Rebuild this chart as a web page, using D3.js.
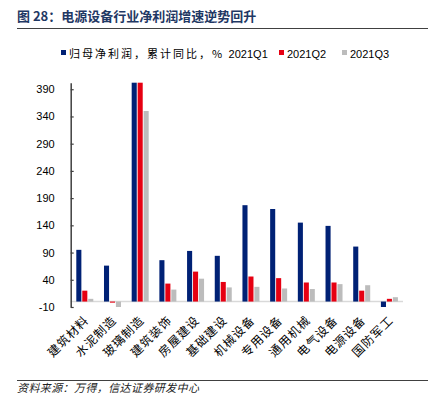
<!DOCTYPE html>
<html>
<head>
<meta charset="utf-8">
<script src="https://cdn.jsdelivr.net/npm/d3@7"></script>
<style>
  body { margin: 0; background: #fff; }
</style>
</head>
<body>
<div class="container"></div>
<script>
// categories and series
const categories = ['建筑材料', '水泥制造', '玻璃制造', '建筑装饰', '房屋建设', '基础建设',
  '机械设备', '专用设备', '通用机械', '电气设备', '电源设备', '国防军工'];
const seriesNames = ['2021Q1', '2021Q2', '2021Q3'];
const legendPrefix = '归母净利润，累计同比，% ';
const q1 = [95, 66, 1150, 76, 93, 84, 177, 170, 145, 139, 101, -12];
const q2 = [20, -2, 1020, 33, 55, 36, 46, 43, 35, 35, 20, 5];
const q3 = [5, -12, 350, 22, 42, 26, 27, 24, 23, 32, 30, 8];
const yTicks = [-10, 40, 90, 140, 190, 240, 290, 340, 390];
const colors = ['#002175', '#e60012', '#bcbcbc'];

const width = 441, height = 394;
const svg = d3.select('.container').append('svg')
  .attr('width', width)
  .attr('height', height)
  .style('font-family', '"Noto Sans CJK SC", sans-serif');

// title
svg.append('text')
  .attr('x', 17).attr('y', 21)
  .attr('fill', '#1f3864')
  .attr('font-size', 13)
  .attr('font-weight', 'bold')
  .text('图 28：电源设备行业净利润增速逆势回升');
svg.append('line')
  .attr('x1', 17).attr('x2', 428).attr('y1', 28.5).attr('y2', 28.5)
  .attr('stroke', '#404040').attr('stroke-width', 1.2);

const x = d3.scaleBand().domain(categories).range([70.7, 403]);
const xs = d3.scaleBand().domain(d3.range(3)).range([5.6, 22.6]).paddingInner(0.15);
const y = d3.scaleLinear().domain([-10, 402]).range([307, 82.7]).clamp(true);

// zero line
svg.append('line')
  .attr('x1', 70.7).attr('x2', 403)
  .attr('y1', y(0)).attr('y2', y(0))
  .attr('stroke', '#d9d9d9').attr('stroke-width', 1.5);

// bars
const rows = [q1, q2, q3];
rows.forEach((vals, s) => {
  svg.append('g')
    .selectAll('rect')
    .data(vals)
    .join('rect')
    .attr('x', (d, i) => x(categories[i]) + xs(s))
    .attr('width', xs.bandwidth())
    .attr('y', d => Math.min(y(d), y(0)))
    .attr('height', d => Math.abs(y(d) - y(0)))
    .attr('fill', colors[s]);
});

// y axis
const yAxis = svg.append('g')
  .attr('transform', 'translate(70.7,0)')
  .call(d3.axisLeft(y).tickValues(yTicks).tickSizeInner(-3).tickSizeOuter(0).tickPadding(16)
    .tickFormat(d => d < 0 ? '-' + Math.abs(d) : d));
yAxis.select('.domain').attr('stroke', '#404040').attr('stroke-width', 1.5);
yAxis.selectAll('.tick line').attr('stroke', '#404040').attr('stroke-width', 1.2);
yAxis.selectAll('.tick text')
  .attr('fill', '#000')
  .attr('font-size', 11)
  .attr('font-family', '"Liberation Sans", Arial, sans-serif');

// category labels
svg.append('g')
  .selectAll('text')
  .data(categories)
  .join('text')
  .attr('transform', d => `translate(${x(d) + x.bandwidth() / 2 + 5},${321}) rotate(-45)`)
  .attr('text-anchor', 'end')
  .attr('font-size', 12)
  .attr('letter-spacing', 1)
  .attr('fill', '#000')
  .text(d => d);

// legend
const legendX = [61, 279, 342];
seriesNames.forEach((name, s) => {
  svg.append('rect')
    .attr('x', legendX[s]).attr('y', 50)
    .attr('width', 5).attr('height', 5)
    .attr('fill', colors[s]);
  const t = svg.append('text')
    .attr('x', legendX[s] + 8).attr('y', 58)
    .attr('font-size', 11)
    .attr('fill', '#000');
  if (s === 0) {
    t.append('tspan').attr('letter-spacing', 2).text(legendPrefix);
  }
  t.append('tspan')
    .attr('font-family', '"Liberation Sans", Arial, sans-serif')
    .text(name);
});

// source
svg.append('line')
  .attr('x1', 17).attr('x2', 428).attr('y1', 380.5).attr('y2', 380.5)
  .attr('stroke', '#404040').attr('stroke-width', 1);
svg.append('text')
  .attr('x', 17).attr('y', 392)
  .attr('font-size', 11)
  .attr('font-style', 'italic')
  .attr('letter-spacing', 0.4)
  .attr('fill', '#222')
  .text('资料来源：万得，信达证券研发中心');
</script>
</body>
</html>
